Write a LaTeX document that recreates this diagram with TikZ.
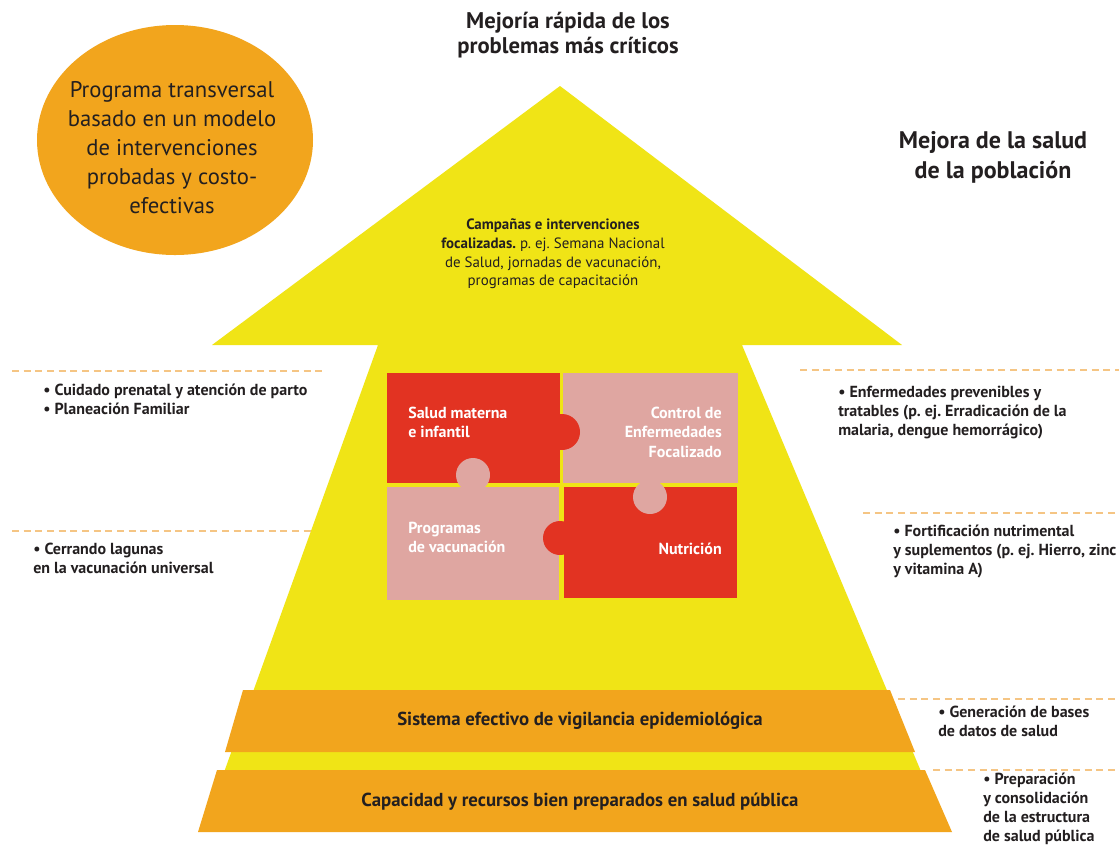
\documentclass[tikz,border=0pt]{standalone}
\usepackage{fontspec}
\setmainfont{PT Sans}
\frenchspacing
\definecolor{ylw}{HTML}{F0E416}
\definecolor{org}{HTML}{F2A51D}
\definecolor{pred}{HTML}{E23322}
\definecolor{ppink}{HTML}{DFA6A1}
\definecolor{dashc}{HTML}{F5C584}
\definecolor{txt}{HTML}{231F20}
\begin{document}
\begin{tikzpicture}[x=0.75pt,y=-0.75pt,
  sep/.style={draw=dashc,line width=2pt,dash pattern=on 5.25pt off 3.5pt},
  lbl/.style={inner sep=0pt,text=txt,font=\bfseries\fontsize{12}{14.25}\selectfont,align=left,anchor=west},
  ptxt/.style={inner sep=0pt,text=white,font=\bfseries\fontsize{12}{14.6}\selectfont},
  bartxt/.style={inner sep=0pt,text=txt,font=\bfseries\fontsize{14.1}{16}\selectfont},
  head/.style={inner sep=0pt,text=txt,align=center,font=\bfseries\fontsize{17}{19}\selectfont}]
\useasboundingbox (0,0) rectangle (1119,844);
\fill[white] (0,0) rectangle (1119,844);
% big arrow
\fill[ylw] (560,86) -- (902,345) -- (742,345) -- (933,800) -- (214,800) -- (378,345) -- (212,345) -- cycle;
% circle
\fill[org] (175,140) ellipse [x radius=138, y radius=115];
\node (circ) [inner sep=0pt,text=txt,align=center,font=\fontsize{17}{21.75}\selectfont] at (172,148)
  {Programa transversal\\basado en un modelo\\de intervenciones\\probadas y costo-\\efectivas};
% titles
\node (top) [head] at (568,35) {Mejoría rápida de los\\problemas más críticos};
\node (pop) [head,font=\bfseries\fontsize{18}{22.5}\selectfont] at (993,157) {Mejora de la salud\\de la población};
\node (camp) [inner sep=0pt,text=txt,align=center,font=\fontsize{11.2}{14}\selectfont] at (553,254)
  {\textbf{Campañas e intervenciones}\\\textbf{focalizadas.} p. ej. Semana Nacional\\de Salud, jornadas de vacunación,\\programas de capacitación};
% puzzle
\fill[ppink] (563,373) rectangle (738,483);
\fill[ppink] (387,487) rectangle (559,600);
\fill[pred] (387,373) rectangle (560,483);
\fill[pred] (564,487) rectangle (737,598);
\fill[pred] (562,432) circle [radius=18];
\fill[ppink] (473,475) circle [radius=17];
\fill[ppink] (650,497) circle [radius=17];
\fill[pred] (560,538) circle [radius=17];
\node (p1) [ptxt,align=left,anchor=west] at (408,422.5) {Salud materna\\e infantil};
\node (p2) [ptxt,align=right,anchor=east] at (722,432) {Control de\\Enfermedades\\Focalizado};
\node (p3) [ptxt,align=left,anchor=west] at (408,537.5) {Programas\\de vacunación};
\node (p4) [ptxt,align=right,anchor=east] at (722,549) {Nutrición};
% bars
\fill[org] (243,690) -- (890,690) -- (915,752) -- (225,752) -- cycle;
\fill[org] (217,770) -- (925,770) -- (952,832) -- (198,832) -- cycle;
\node (b1) [bartxt] at (580,721) {Sistema efectivo de vigilancia epidemiológica};
\node (b2) [bartxt] at (580,802) {Capacidad y recursos bien preparados en salud pública};
% separators
\draw[sep] (12,371) -- (325,371);
\draw[sep] (12,531) -- (315,531);
\draw[sep] (800,370) -- (1119,370);
\draw[sep] (863,513) -- (1119,513);
\draw[sep] (898,699) -- (1119,699);
\draw[sep] (933,770) -- (1119,770);
% side labels
\node (l1) [lbl] at (43,399.5) {• Cuidado prenatal y atención de parto\\• Planeación Familiar};
\node (l2) [lbl] at (33,558) {• Cerrando lagunas\\en la vacunación universal};
\node (r1) [lbl] at (838,413) {• Enfermedades prevenibles y\\tratables (p. ej. Erradicación de la\\malaria, dengue hemorrágico)};
\node (r2) [lbl] at (893,551) {• Fortificación nutrimental\\y suplementos (p. ej. Hierro, zinc\\y vitamina A)};
\node (r3) [lbl] at (938,721) {• Generación de bases\\de datos de salud};
\node (r4) [lbl] at (983,808.5) {• Preparación\\y consolidación\\de la estructura\\de salud pública};
\end{tikzpicture}
\end{document}
